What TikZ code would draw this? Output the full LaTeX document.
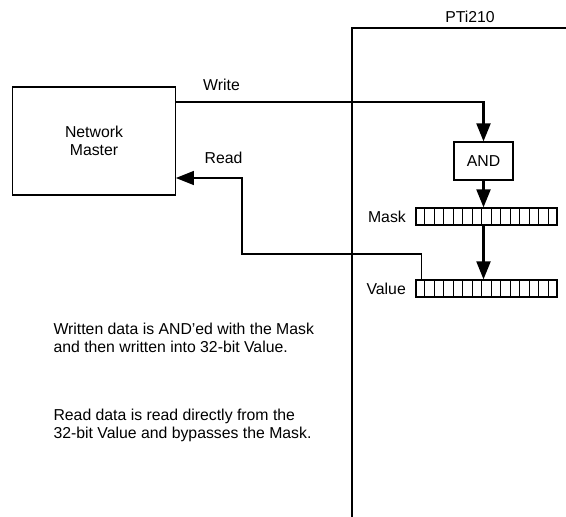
\documentclass[tikz,border=0pt]{standalone}
\usepackage{fontspec}
\setmainfont{Liberation Sans}
\usetikzlibrary{arrows.meta,calc}

\begin{document}
\begin{tikzpicture}[
  x=1pt, y=-1pt,
  font=\fontsize{15.8}{18}\selectfont,
  box/.style={draw, line width=1.3pt, align=center, inner sep=0pt},
  reg/.style={draw, line width=1.3pt, minimum width=141pt, minimum height=17pt, inner sep=0pt},
  wire/.style={-{Triangle[length=18pt,width=14pt]}, line width=2.2pt},
  readarr/.style={-{Triangle[length=18pt,width=14pt]}, line width=1.4pt},
  note/.style={anchor=west, align=left}
]
\useasboundingbox (0,0) rectangle (566,517);

% PTi210 panel
\draw[line width=1.5pt] (352,517) |- (566,28);
\node (pti) at (470,17) {PTi210};

\node[box, minimum width=162.5pt, minimum height=108pt] (master) at (94,141) {Network\\Master};
\node[box, minimum width=59pt, minimum height=38pt] (and) at (483.5,161) {AND};

\node[reg] (mask) at (486.5,216.5) {};
\node[reg] (value) at (486.5,288.5) {};
\foreach \r in {mask,value}
  \foreach \i in {1,...,14}
    \draw[line width=1.3pt] ($(\r.south west)!\i/15!(\r.south east)$) -- ($(\r.north west)!\i/15!(\r.north east)$);
\node[anchor=east] (masklbl) at ([xshift=-6pt]mask.west) {Mask};
\node[anchor=east] (valuelbl) at ([xshift=-6pt]value.west) {Value};

% write path
\draw[wire] ([yshift=39.3pt]master.east) -| (and.north);
\node (wlbl) at (221.5,85) {Write};
\draw[wire] (and.south) -- (and.south |- mask.north);
\draw[wire] (and.south |- mask.south) -- (and.south |- value.north);

% read path
\coordinate (tap) at ($(value.north west)+(6,0)$);
\coordinate (bend) at (242,254);
\draw[readarr] (tap) |- (bend) |- ([yshift=-37pt]master.east);
\node (rlbl) at (223.5,158) {Read};

\node[note] (wnote) at (50,337.5) {Written data is AND’ed with the Mask\\and then written into 32-bit Value.};
\node[note] (rnote) at (50,425) {Read data is read directly from the\\32-bit Value and bypasses the Mask.};
\end{tikzpicture}
\end{document}
